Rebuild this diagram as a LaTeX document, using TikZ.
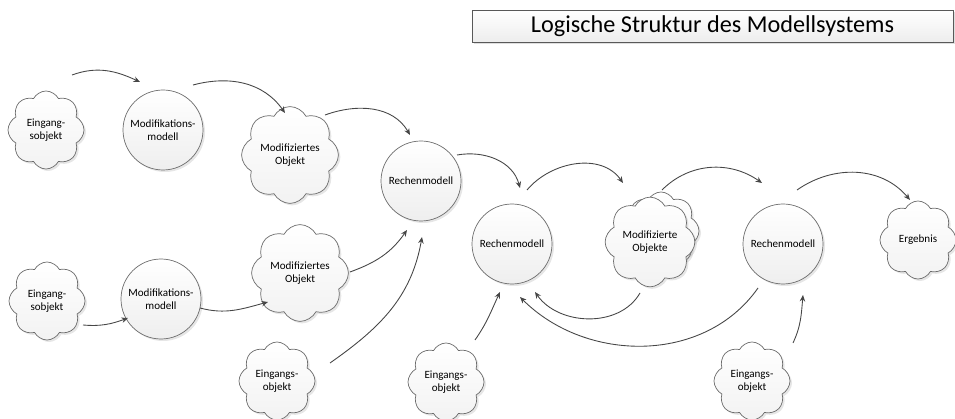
\documentclass[tikz,border=0pt]{standalone}
\usepackage{fontspec}
\setmainfont{Carlito}
\usetikzlibrary{shapes.symbols,shadows,arrows.meta}

\begin{document}
\begin{tikzpicture}[x=0.2mm, y=0.2mm,
    wolke/.style={cloud, cloud puffs=8, cloud puff arc=125, aspect=1,
                  draw=gray!85!black, top color=white, bottom color=gray!10,
                  minimum width=15.2mm, minimum height=15.6mm, inner sep=0pt,
                  align=center, font=\fontsize{6.3}{7.2}\selectfont,
                  drop shadow={opacity=0.2, shadow xshift=0.4mm, shadow yshift=-0.4mm}},
    modell/.style={circle, draw=gray!85!black, top color=white, bottom color=gray!13,
                   minimum size=16mm, inner sep=0pt, align=center,
                   font=\fontsize{6.3}{7.2}\selectfont,
                   drop shadow={opacity=0.2, shadow xshift=0.4mm, shadow yshift=-0.4mm}},
    titelbox/.style={draw=gray!70!black, top color=white, bottom color=gray!14,
                     minimum width=96.2mm, minimum height=6.4mm, inner sep=0pt,
                     font=\fontsize{13.8}{15}\selectfont,
                     drop shadow={opacity=0.25, shadow xshift=0.4mm, shadow yshift=-0.5mm}},
    flow/.style={-{Stealth[length=1.3mm, width=1.1mm]}, draw=gray!55!black, line width=0.5pt}
]
    \useasboundingbox (0,0) rectangle (955,419);

    \node[titelbox] (titel) at (712.5,393) {Logische Struktur des Modellsystems};

    \node[wolke] (ein1) at (46,289) {Eingang-\\sobjekt};
    \node[modell] (mod1) at (163,289) {Modifikations-\\modell};
    \node[wolke] (mobj1) at (290,264) {Modifiziertes\\Objekt};
    \node[wolke] (ein2) at (47,118) {Eingang-\\sobjekt};
    \node[modell] (mod2) at (161,120) {Modifikations-\\modell};
    \node[wolke] (mobj2) at (300,146) {Modifiziertes\\Objekt};
    \node[modell] (rech1) at (421,238) {Rechenmodell};
    \node[modell] (rech2) at (512,175) {Rechenmodell};
    \node[wolke] (mobjsb) at (661,188) {};
    \node[wolke] (mobjs) at (650,177) {Modifizierte\\Objekte};
    \node[modell] (rech3) at (783,175) {Rechenmodell};
    \node[wolke] (erg) at (918,179) {Ergebnis};
    \node[wolke] (einA) at (277,38) {Eingangs-\\objekt};
    \node[wolke] (einB) at (446,37) {Eingangs-\\objekt};
    \node[wolke] (einC) at (752,38) {Eingangs-\\objekt};

    \draw[flow] ([shift={(26,55)}]ein1.center) to[out=20, in=155] ([shift={(-23,48)}]mod1.center);
    \draw[flow] ([shift={(30,45)}]mod1.center) to[out=15, in=125] ([shift={(-5,42)}]mobj1.center);
    \draw[flow] ([shift={(35,40)}]mobj1.center) to[out=20, in=120] ([shift={(-11,46)}]rech1.center);
    \draw[flow] ([shift={(36,26)}]rech1.center) to[out=10, in=105] ([shift={(8,56)}]rech2.center);
    \draw[flow] ([shift={(15,54)}]rech2.center) to[out=50, in=125] ([shift={(-27,59)}]mobjs.center);
    \draw[flow] ([shift={(12,52)}]mobjs.center) to[out=45, in=145] ([shift={(-21,61)}]rech3.center);
    \draw[flow] ([shift={(14,54)}]rech3.center) to[out=35, in=130] ([shift={(-8,40)}]erg.center);
    \draw[flow] ([shift={(36,-24)}]ein2.center) to[out=-5, in=200] ([shift={(-33,-19)}]mod2.center);
    \draw[flow] ([shift={(39,-9)}]mod2.center) to[out=-15, in=195] ([shift={(-32,-29)}]mobj2.center);
    \draw[flow] ([shift={(50,1)}]mobj2.center) to[out=20, in=235] ([shift={(-14,-49)}]rech1.center);
    \draw[flow] ([shift={(53,18)}]einA.center) to[out=35, in=260] ([shift={(1,-56)}]rech1.center);
    \draw[flow] ([shift={(29,42)}]einB.center) to[out=55, in=245] ([shift={(-12,-48)}]rech2.center);
    \draw[flow] ([shift={(-10,-51)}]mobjs.center) to[out=240, in=-55] ([shift={(23,-48)}]rech2.center);
    \draw[flow] ([shift={(-25,-44)}]rech3.center) to[out=235, in=-45] ([shift={(8,-53)}]rech2.center);
    \draw[flow] ([shift={(41,38)}]einC.center) to[out=65, in=265] ([shift={(20,-51)}]rech3.center);
\end{tikzpicture}
\end{document}
